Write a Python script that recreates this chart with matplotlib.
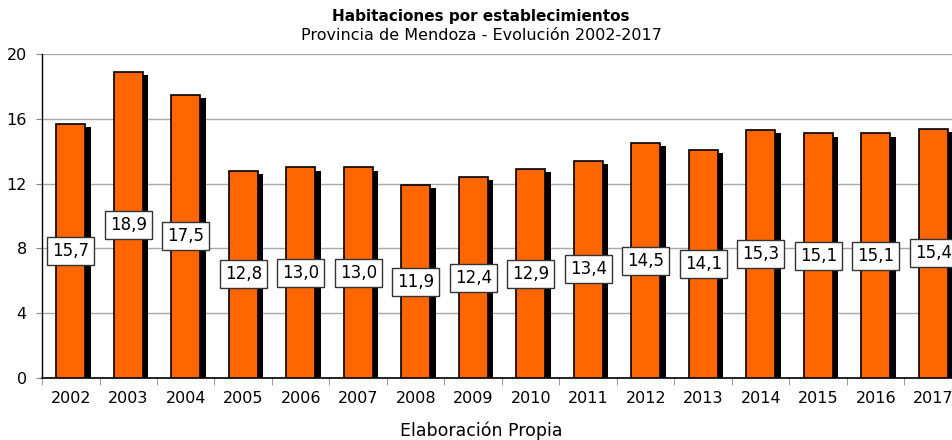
import numpy as np
import matplotlib.pyplot as plt

# Habitaciones por establecimiento, Mendoza
years = ['2002', '2003', '2004', '2005', '2006', '2007', '2008', '2009',
         '2010', '2011', '2012', '2013', '2014', '2015', '2016', '2017']
rooms = [15.7, 18.9, 17.5, 12.8, 13.0, 13.0, 11.9, 12.4,
         12.9, 13.4, 14.5, 14.1, 15.3, 15.1, 15.1, 15.4]

W, H = 953, 440
fig = plt.figure(figsize=(W / 100, H / 100), dpi=100)
# the plot area runs past the right edge, as in the original
ax = fig.add_axes([42 / W, (H - 378) / H, 920 / W, 324 / H])

x = np.arange(len(years))
width = 0.5

# shadow bars, then orange bars
ax.bar(x + 0.1, np.array(rooms) - 0.2, width, color='black', zorder=2)
ax.bar(x, rooms, width, color='#ff6600', edgecolor='black', linewidth=1.2, zorder=3)

for xi, v in zip(x, rooms):
    ax.text(xi, v / 2, f'{v:.1f}'.replace('.', ','), ha='center', va='center',
            fontsize=12, zorder=5,
            bbox=dict(boxstyle='square,pad=0.3', facecolor='white',
                      edgecolor='#333333', linewidth=1))

ax.set_xlim(-0.5, len(years) - 0.5)
ax.set_ylim(0, 20)
ax.set_yticks([0, 4, 8, 12, 16, 20])
ax.set_xticks(x)
ax.set_xticklabels(years)
ax.set_xticks(np.arange(len(years) + 1) - 0.5, minor=True)
ax.tick_params(axis='x', which='major', length=0, labelsize=11.5, pad=9)
ax.tick_params(axis='x', which='minor', length=5, color='#888888')
ax.tick_params(axis='y', length=4, color='#888888', labelsize=11.5, pad=7)

ax.grid(True, axis='y', color='#a8a8a8', linewidth=1, zorder=0)
ax.set_axisbelow(True)
ax.spines['top'].set_visible(False)
ax.spines['right'].set_visible(False)
ax.spines['left'].set_linewidth(1)
ax.spines['bottom'].set_linewidth(1.2)

fig.text(481 / W, 1 - 16 / H, 'Habitaciones por establecimientos',
         ha='center', va='center', fontsize=11, fontweight='bold')
fig.text(481 / W, 1 - 35 / H, 'Provincia de Mendoza - Evolución 2002-2017',
         ha='center', va='center', fontsize=11.5)
fig.text(481 / W, 1 - 431 / H, 'Elaboración Propia',
         ha='center', va='center', fontsize=12.5)

fig.savefig('out.png', dpi=100)
